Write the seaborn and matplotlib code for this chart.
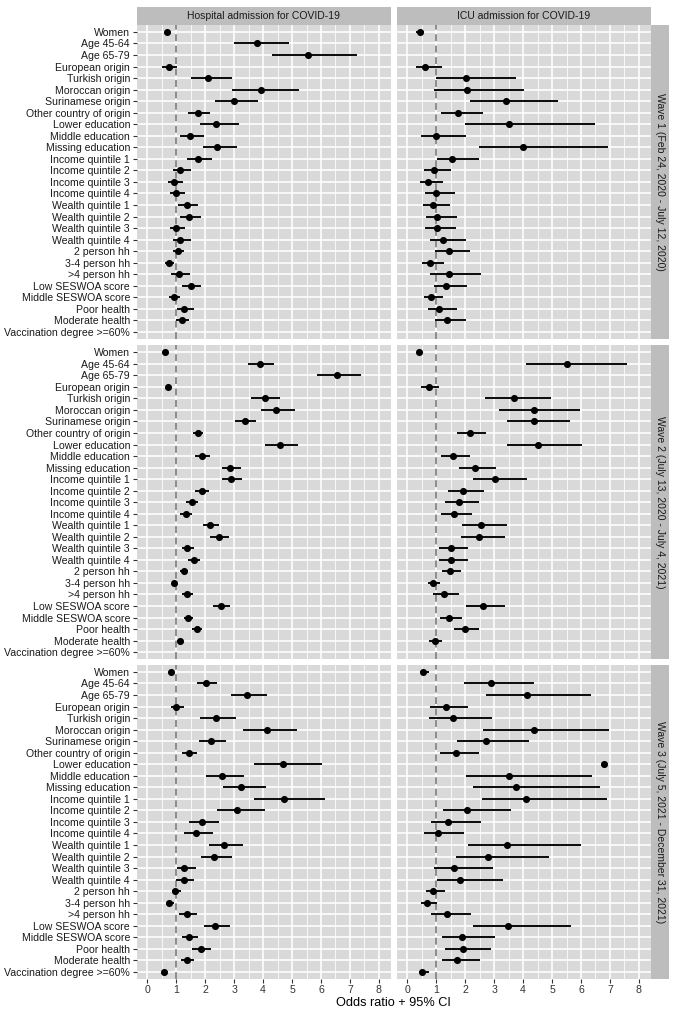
import numpy as np
import pandas as pd
import matplotlib
matplotlib.use("Agg")
import matplotlib.pyplot as plt
import seaborn as sns

NA = np.nan

categories = ["Women", "Age 45-64", "Age 65-79", "European origin", "Turkish origin",
              "Moroccan origin", "Surinamese origin", "Other country of origin",
              "Lower education", "Middle education", "Missing education",
              "Income quintile 1", "Income quintile 2", "Income quintile 3", "Income quintile 4",
              "Wealth quintile 1", "Wealth quintile 2", "Wealth quintile 3", "Wealth quintile 4",
              "2 person hh", "3-4 person hh", ">4 person hh", "Low SESWOA score",
              "Middle SESWOA score", "Poor health", "Moderate health", "Vaccination degree >=60%"]
waves = ["Wave 1 (Feb 24, 2020 - July 12, 2020)",
         "Wave 2 (July 13, 2020 - July 4, 2021)",
         "Wave 3 (July 5, 2021 - December 31, 2021)"]
outcomes = ["Hospital admission for COVID-19", "ICU admission for COVID-19"]
x_ticks = [0, 1, 2, 3, 4, 5, 6, 7, 8]

hosp_w1_or = [0.68, 3.79, 5.54, 0.73, 2.11, 3.93, 2.99, 1.74, 2.38, 1.48, 2.41, 1.74, 1.14, 0.91, 0.99, 1.36, 1.43, 1.00, 1.14, 1.05, 0.76, 1.08, 1.49, 0.91, 1.28, 1.19, NA]
hosp_w1_lo = [0.64, 2.99, 4.30, 0.51, 1.49, 2.91, 2.32, 1.39, 1.81, 1.12, 1.91, 1.38, 0.88, 0.70, 0.77, 1.06, 1.12, 0.77, 0.88, 0.87, 0.62, 0.81, 1.21, 0.75, 1.03, 0.99, NA]
hosp_w1_hi = [0.72, 4.91, 7.24, 1.03, 2.93, 5.25, 3.81, 2.16, 3.17, 1.96, 3.08, 2.22, 1.49, 1.23, 1.29, 1.76, 1.84, 1.31, 1.49, 1.27, 0.91, 1.46, 1.86, 1.13, 1.60, 1.44, NA]

icu_w1_or = [0.43, NA, NA, 0.62, 2.04, 2.06, 3.41, 1.75, 3.52, 1.00, 4.00, 1.54, 0.91, 0.71, 0.98, 0.88, 1.04, 1.01, 1.23, 1.43, 0.77, 1.43, 1.35, 0.82, 1.08, 1.37, NA]
icu_w1_lo = [0.31, NA, NA, 0.30, 1.00, 0.93, 2.17, 1.16, 1.99, 0.48, 2.48, 1.01, 0.56, 0.43, 0.60, 0.53, 0.63, 0.61, 0.77, 0.97, 0.49, 0.77, 0.92, 0.56, 0.71, 0.96, NA]
icu_w1_hi = [0.57, NA, NA, 1.20, 3.75, 4.02, 5.22, 2.63, 6.48, 2.03, 6.94, 2.47, 1.52, 1.23, 1.63, 1.47, 1.71, 1.67, 2.01, 2.18, 1.25, 2.55, 2.05, 1.23, 1.70, 2.01, NA]

hosp_w2_or = [0.62, 3.89, 6.56, 0.72, 4.05, 4.46, 3.38, 1.75, 4.59, 1.87, 2.86, 2.88, 1.88, 1.53, 1.33, 2.18, 2.47, 1.38, 1.60, 1.25, 0.92, 1.36, 2.54, 1.39, 1.73, 1.12, NA]
hosp_w2_lo = [0.59, 3.47, 5.85, 0.66, 3.57, 3.92, 3.03, 1.58, 4.06, 1.64, 2.57, 2.57, 1.66, 1.34, 1.14, 1.93, 2.18, 1.21, 1.39, 1.14, 0.86, 1.19, 2.27, 1.25, 1.55, 1.03, NA]
hosp_w2_hi = [0.65, 4.38, 7.39, 0.77, 4.57, 5.09, 3.77, 1.93, 5.22, 2.16, 3.24, 3.28, 2.13, 1.76, 1.55, 2.49, 2.83, 1.60, 1.83, 1.39, 1.00, 1.59, 2.84, 1.57, 1.90, 1.21, NA]

icu_w2_or = [0.40, 5.52, NA, 0.74, 3.68, 4.38, 4.39, 2.15, 4.52, 1.57, 2.32, 3.02, 1.92, 1.78, 1.60, 2.53, 2.47, 1.50, 1.50, 1.46, 0.88, 1.27, 2.60, 1.44, 1.99, 0.94, NA]
icu_w2_lo = [0.36, 4.09, NA, 0.48, 2.69, 3.16, 3.45, 1.72, 3.44, 1.15, 1.79, 2.27, 1.40, 1.30, 1.16, 1.89, 1.84, 1.09, 1.08, 1.19, 0.71, 0.89, 2.02, 1.13, 1.61, 0.76, NA]
icu_w2_hi = [0.44, 7.58, NA, 1.08, 4.97, 5.96, 5.61, 2.71, 6.03, 2.18, 3.07, 4.12, 2.65, 2.47, 2.24, 3.45, 3.36, 2.11, 2.09, 1.84, 1.14, 1.79, 3.36, 1.88, 2.49, 1.19, NA]

hosp_w3_or = [0.83, 2.01, 3.45, 1.00, 2.38, 4.15, 2.19, 1.43, 4.68, 2.58, 3.24, 4.72, 3.09, 1.87, 1.68, 2.64, 2.31, 1.28, 1.25, 0.96, 0.76, 1.36, 2.35, 1.43, 1.84, 1.37, 0.59]
hosp_w3_lo = [0.77, 1.70, 2.90, 0.80, 1.83, 3.30, 1.78, 1.20, 3.70, 2.03, 2.61, 3.70, 2.41, 1.43, 1.27, 2.13, 1.86, 1.01, 0.99, 0.84, 0.65, 1.08, 1.95, 1.20, 1.55, 1.15, 0.55]
hosp_w3_hi = [0.89, 2.40, 4.15, 1.28, 3.07, 5.18, 2.73, 1.73, 6.02, 3.35, 4.11, 6.15, 4.06, 2.49, 2.26, 3.32, 2.91, 1.67, 1.62, 1.15, 0.92, 1.72, 2.86, 1.75, 2.20, 1.62, 0.63]

icu_w3_or = [0.55, 2.89, 4.12, 1.33, 1.56, 4.37, 2.73, 1.68, 6.78, 3.51, 3.76, 4.10, 2.06, 1.40, 1.06, 3.45, 2.78, 1.61, 1.83, 0.90, 0.69, 1.36, 3.49, 1.88, 1.92, 1.71, 0.52]
icu_w3_lo = [0.45, 1.97, 2.73, 0.78, 0.74, 2.62, 1.72, 1.13, NA, 2.02, 2.27, 2.58, 1.22, 0.81, 0.57, 2.09, 1.67, 0.92, 1.02, 0.63, 0.47, 0.83, 2.26, 1.21, 1.29, 1.19, 0.39]
icu_w3_hi = [0.75, 4.38, 6.35, 2.11, 2.93, 6.97, 4.21, 2.46, NA, 6.38, 6.66, 6.90, 3.57, 2.53, 1.97, 5.99, 4.89, 2.95, 3.32, 1.29, 1.01, 2.19, 5.66, 3.03, 2.89, 2.50, 0.75]

series = {
    (0, 0): (hosp_w1_or, hosp_w1_lo, hosp_w1_hi),
    (0, 1): (icu_w1_or, icu_w1_lo, icu_w1_hi),
    (1, 0): (hosp_w2_or, hosp_w2_lo, hosp_w2_hi),
    (1, 1): (icu_w2_or, icu_w2_lo, icu_w2_hi),
    (2, 0): (hosp_w3_or, hosp_w3_lo, hosp_w3_hi),
    (2, 1): (icu_w3_or, icu_w3_lo, icu_w3_hi),
}

rows = []
for (r, c), (o, lo, hi) in series.items():
    for i, cat in enumerate(categories):
        rows.append(dict(wave=waves[r], outcome=outcomes[c], label=cat, pos=i,
                         odds=o[i], lo=lo[i], hi=hi[i]))
df = pd.DataFrame(rows)

plt.rcParams['font.family'] = ['Liberation Sans', 'DejaVu Sans']

W, H = 677, 1016
fig = plt.figure(figsize=(W / 100, H / 100), dpi=100)

def fr(x, y, w, h):
    return [x / W, 1 - (y + h) / H, w / W, h / H]

col_x = [136.7, 396.7]
col_w = 254.0
row_top = [25.0, 345.3, 665.0]
row_h = 313.8

panel_bg = "#D9D9D9"
strip_bg = "#BDBDBD"
txt = "#1A1A1A"

for r in range(3):
    for c in range(2):
        ax = fig.add_axes(fr(col_x[c], row_top[r], col_w, row_h))
        ax.set_facecolor(panel_bg)
        for s in ax.spines.values():
            s.set_visible(False)
        sub = df[(df.wave == waves[r]) & (df.outcome == outcomes[c])]
        ci = sub.dropna(subset=["lo", "hi"])
        ax.axvline(1, color="#6E6E6E", ls=(0, (4.5, 3)), lw=1.1, zorder=1.5)
        ax.hlines(ci["pos"], ci["lo"], ci["hi"], color="black", lw=1.35, zorder=2)
        pts = sub.dropna(subset=["odds"])
        sns.scatterplot(data=pts, x="odds", y="pos", color="black", s=26,
                        linewidth=0, ax=ax, legend=False, zorder=3)
        ax.set_xlim(-0.37, 8.41)
        ax.set_ylim(len(categories) - 1 + 0.6, -0.6)
        ax.set_xticks(x_ticks)
        ax.set_xticks(np.arange(0.5, 8, 1), minor=True)
        ax.set_yticks(range(len(categories)))
        ax.set_axisbelow(True)
        ax.grid(which="major", color="white", lw=1.15)
        ax.grid(which="minor", axis="x", color="white", lw=0.55)
        ax.set_xlabel("")
        ax.set_ylabel("")
        ax.tick_params(which="minor", length=0)
        if c == 0:
            ax.set_yticklabels(categories)
            ax.tick_params(axis="y", length=2.8, width=0.8, color="#333333",
                           labelsize=7.6, labelcolor=txt, pad=2)
        else:
            ax.tick_params(axis="y", length=0, labelleft=False)
        if r == 2:
            ax.set_xticklabels([str(t) for t in x_ticks])
            ax.tick_params(axis="x", length=2.8, width=0.8, color="#333333",
                           labelsize=7.6, labelcolor="#333333", pad=2)
        else:
            ax.tick_params(axis="x", length=0, labelbottom=False)

# top strips
for c in range(2):
    sax = fig.add_axes(fr(col_x[c], 7, col_w, 18))
    sax.set_facecolor(strip_bg)
    sax.set_xticks([]); sax.set_yticks([])
    for s in sax.spines.values():
        s.set_visible(False)
    sax.text(0.5, 0.5, outcomes[c], ha="center", va="center", fontsize=7.5,
             color=txt, transform=sax.transAxes)

# right strips
for r in range(3):
    sax = fig.add_axes(fr(col_x[1] + col_w, row_top[r], 18, row_h))
    sax.set_facecolor(strip_bg)
    sax.set_xticks([]); sax.set_yticks([])
    for s in sax.spines.values():
        s.set_visible(False)
    sax.text(0.5, 0.5, waves[r], ha="center", va="center", fontsize=7.5,
             color=txt, rotation=-90, transform=sax.transAxes)

fig.text((col_x[0] + col_x[1] + col_w) / 2 / W, 1 - 1003 / H, "Odds ratio + 95% CI",
         ha="center", va="center", fontsize=9.2, color="black")

fig.savefig("out.png", dpi=100, facecolor="white")
